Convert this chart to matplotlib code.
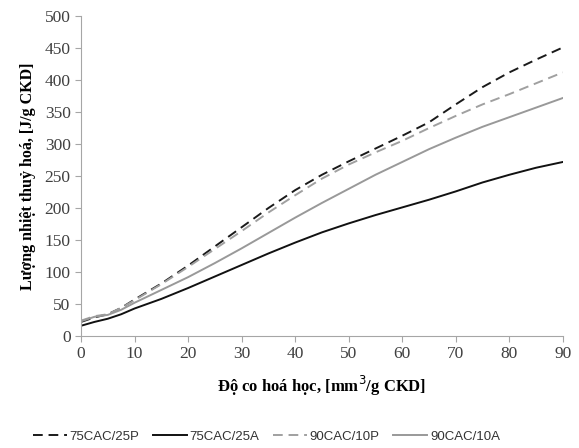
import matplotlib
matplotlib.use('Agg')
import matplotlib.pyplot as plt

# do co hoa hoc (mm3/g CKD)
x = [0, 2.5, 5, 7.5, 10, 15, 20, 25, 30, 35, 40, 45, 50, 55, 60, 65, 70, 75, 80, 85, 90]

# luong nhiet thuy hoa (J/g CKD)
cac75_25p = [22, 29, 34, 44, 57, 82, 110, 140, 170, 200, 228, 252, 273, 293, 313, 334, 362, 389, 412, 432, 451]
cac75_25a = [16, 22, 27, 34, 43, 58, 75, 93, 111, 129, 146, 162, 176, 189, 201, 213, 226, 240, 252, 263, 272]
cac90_10p = [24, 31, 34, 44, 56, 81, 108, 136, 164, 193, 220, 246, 268, 287, 305, 325, 344, 362, 378, 395, 412]
cac90_10a = [23, 30, 33, 41, 52, 72, 92, 114, 137, 161, 185, 208, 230, 252, 272, 292, 310, 327, 342, 357, 372]

plt.rcParams['font.family'] = ['Liberation Serif', 'DejaVu Serif']

fig = plt.figure(figsize=(5.79, 4.48), dpi=100)
ax = fig.add_axes([0.14, 0.25, 0.832, 0.714])

ax.plot(x, cac75_25p, color='#1a1a1a', lw=1.4, dashes=(5, 3), label='75CAC/25P')
ax.plot(x, cac75_25a, color='#111111', lw=1.4, label='75CAC/25A')
ax.plot(x, cac90_10p, color='#a0a0a0', lw=1.4, dashes=(5, 3), label='90CAC/10P')
ax.plot(x, cac90_10a, color='#999999', lw=1.4, label='90CAC/10A')

ax.set_xlim(0, 90)
ax.set_ylim(0, 500)
ax.set_xticks(range(0, 91, 10))
ax.set_yticks(range(0, 501, 50))
for s in ['top', 'right']:
    ax.spines[s].set_visible(False)
for s in ['left', 'bottom']:
    ax.spines[s].set_color('#a6a6a6')
ax.tick_params(colors='#a6a6a6', labelcolor='#404040', labelsize=12.5, length=4)

ax.set_xlabel('Độ co hoá học, [mm$^3$/g CKD]', fontsize=12, fontweight='bold', labelpad=8)
ax.set_ylabel('Lượng nhiệt thuỷ hoá, [J/g CKD]', fontsize=11.5, fontweight='bold', labelpad=6)

leg = fig.legend(loc='center', bbox_to_anchor=(0.46, 0.025), ncol=4, frameon=False,
                 prop={'family': 'Liberation Sans', 'size': 9.5}, handlelength=2.6,
                 columnspacing=1.0, handletextpad=0.2)
for t in leg.get_texts():
    t.set_color('#333333')

fig.savefig('out.png', dpi=100)
